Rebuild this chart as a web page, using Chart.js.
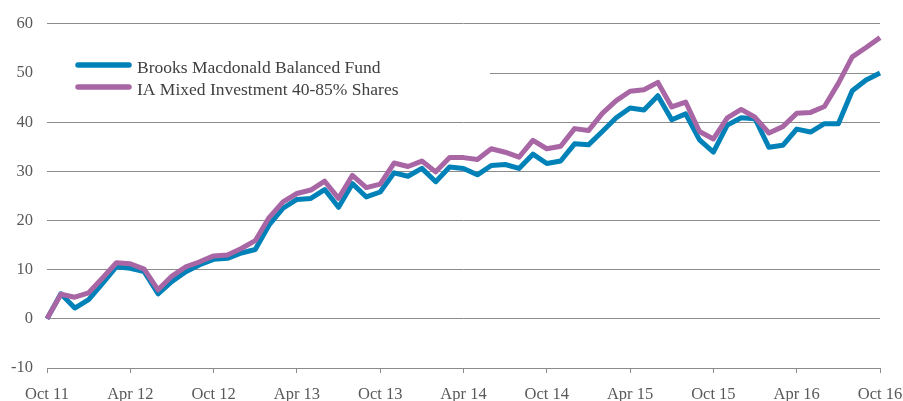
<!DOCTYPE html>
<html>
<head>
<meta charset="utf-8">
<script src="https://cdn.jsdelivr.net/npm/chart.js@4.4.0/dist/chart.umd.min.js"></script>
<style>
  html, body { margin: 0; padding: 0; background: #fff; }
  #wrap { width: 903px; height: 401px; }
</style>
</head>
<body>
<div id="wrap"><canvas id="lineChart" width="903" height="401"></canvas></div>
<script>
var months = [
    'Oct 11', 'Nov 11', 'Dec 11', 'Jan 12', 'Feb 12', 'Mar 12', 'Apr 12', 'May 12', 'Jun 12', 'Jul 12', 'Aug 12', 'Sep 12',
    'Oct 12', 'Nov 12', 'Dec 12', 'Jan 13', 'Feb 13', 'Mar 13', 'Apr 13', 'May 13', 'Jun 13', 'Jul 13', 'Aug 13', 'Sep 13',
    'Oct 13', 'Nov 13', 'Dec 13', 'Jan 14', 'Feb 14', 'Mar 14', 'Apr 14', 'May 14', 'Jun 14', 'Jul 14', 'Aug 14', 'Sep 14',
    'Oct 14', 'Nov 14', 'Dec 14', 'Jan 15', 'Feb 15', 'Mar 15', 'Apr 15', 'May 15', 'Jun 15', 'Jul 15', 'Aug 15', 'Sep 15',
    'Oct 15', 'Nov 15', 'Dec 15', 'Jan 16', 'Feb 16', 'Mar 16', 'Apr 16', 'May 16', 'Jun 16', 'Jul 16', 'Aug 16', 'Sep 16',
    'Oct 16'
];

// only these get a label + tick mark on the x axis
var tickLabels = ['Oct 11', 'Apr 12', 'Oct 12', 'Apr 13', 'Oct 13', 'Apr 14', 'Oct 14', 'Apr 15', 'Oct 15', 'Apr 16', 'Oct 16'];

var brooksName = 'Brooks Macdonald Balanced Fund';
var brooks = [
    0, 5.1, 2.2, 3.9, 7.2, 10.6, 10.3, 9.6, 5.1, 7.6, 9.6,
    11, 12.1, 12.3, 13.4, 14.1, 19.1, 22.5, 24.3, 24.5, 26.3,
    22.7, 27.5, 24.8, 25.8, 29.7, 29, 30.6, 27.9, 30.9, 30.6,
    29.3, 31.2, 31.4, 30.6, 33.5, 31.6, 32.1, 35.6, 35.4, 38.1,
    40.9, 42.9, 42.5, 45.4, 40.5, 41.7, 36.4, 33.9, 39.4, 40.9,
    40.7, 34.9, 35.3, 38.6, 38, 39.7, 39.7, 46.4, 48.6, 50
];

var sectorName = 'IA Mixed Investment 40-85% Shares';
var sector = [
    0, 5, 4.4, 5.3, 8.3, 11.4, 11.2, 10.1, 5.9, 8.7, 10.6,
    11.6, 12.8, 13, 14.3, 15.9, 20.6, 23.8, 25.5, 26.2, 28,
    24.5, 29.2, 26.7, 27.4, 31.7, 31, 32.1, 29.9, 32.8, 32.8,
    32.4, 34.6, 33.9, 32.9, 36.3, 34.6, 35.1, 38.7, 38.3, 41.8,
    44.4, 46.3, 46.6, 48.1, 43.1, 44.1, 38.1, 36.6, 40.9, 42.6,
    41, 37.8, 39.1, 41.8, 42, 43.2, 47.9, 53.3, 55.2, 57.2
];

var yTicks = [-10, 0, 10, 20, 30, 40, 50, 60];

var blue = '#0082B9';
var purple = '#A866A5';
var fontFamily = '"Liberation Serif", "Times New Roman", serif';

// legend sits inside the plot on a white box that hides the 50 gridline
var insideLegend = {
    id: 'insideLegend',
    beforeDatasetsDraw: function (chart) {
        var ctx = chart.ctx;
        ctx.save();
        ctx.fillStyle = '#ffffff';
        ctx.fillRect(chart.chartArea.left, 50, 443, 56);

        var items = [
            { text: brooksName, color: blue, y: 65 },
            { text: sectorName, color: purple, y: 87 }
        ];
        items.forEach(function (it) {
            ctx.strokeStyle = it.color;
            ctx.lineWidth = 5.5;
            ctx.lineCap = 'round';
            ctx.beginPath();
            ctx.moveTo(78, it.y);
            ctx.lineTo(129, it.y);
            ctx.stroke();

            ctx.fillStyle = '#404040';
            ctx.font = '17.5px ' + fontFamily;
            ctx.textBaseline = 'middle';
            ctx.textAlign = 'left';
            ctx.fillText(it.text, 137, it.y + 3);
        });
        ctx.restore();
    }
};

const ctx = document.getElementById('lineChart');

var myChart = new Chart(ctx, {
    type: 'line',
    data: {
        labels: months,
        datasets: [{
            label: brooksName,
            data: brooks,
            borderColor: blue,
            backgroundColor: blue,
            borderWidth: 5,
            pointRadius: 0,
            tension: 0,
            borderJoinStyle: 'round',
            order: 2
        }, {
            label: sectorName,
            data: sector,
            borderColor: purple,
            backgroundColor: purple,
            borderWidth: 5,
            pointRadius: 0,
            tension: 0,
            borderJoinStyle: 'round',
            order: 1
        }]
    },
    options: {
        responsive: false,
        animation: false,
        layout: {
            padding: { top: 23, right: 23, left: 0, bottom: 0 }
        },
        scales: {
            y: {
                min: -10,
                max: 60,
                afterFit: function (scale) { scale.width = 47; },
                afterBuildTicks: function (scale) {
                    scale.ticks = yTicks.map(function (v) { return { value: v }; });
                },
                border: { display: false },
                grid: {
                    color: '#8c8c8c',
                    lineWidth: 1,
                    drawTicks: false
                },
                ticks: {
                    padding: 14,
                    color: '#595959',
                    font: { family: fontFamily, size: 16.5 }
                }
            },
            x: {
                afterFit: function (scale) {
                    scale.height = 33;
                    // labels may hang past the plot edges, don't shrink the plot for them
                    scale.paddingLeft = 0;
                    scale.paddingRight = 0;
                },
                border: { display: true, color: '#8c8c8c', width: 1 },
                grid: {
                    drawOnChartArea: false,
                    drawTicks: true,
                    tickLength: 5,
                    color: '#8c8c8c'
                },
                ticks: {
                    autoSkip: false,
                    maxRotation: 0,
                    padding: 12,
                    color: '#595959',
                    font: { family: fontFamily, size: 16.5 },
                    callback: function (value, index) {
                        var lbl = this.getLabelForValue(value);
                        return tickLabels.indexOf(lbl) >= 0 ? lbl : null;
                    }
                }
            }
        },
        plugins: {
            legend: { display: false },
            tooltip: { enabled: false }
        }
    },
    plugins: [insideLegend]
});
</script>
</body>
</html>
